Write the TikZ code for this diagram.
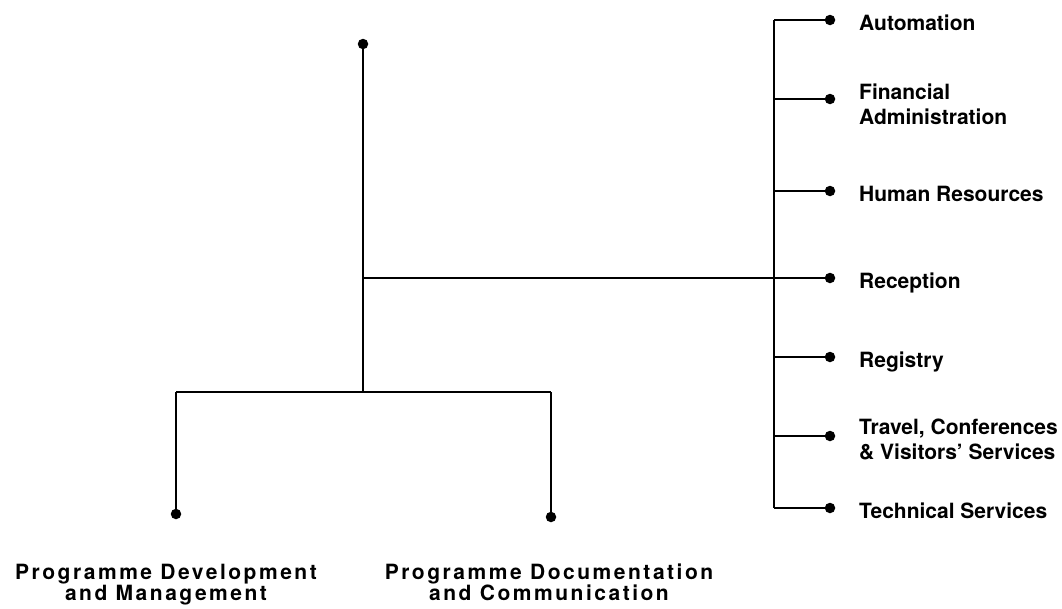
\documentclass[tikz,border=0pt]{standalone}
\usepackage{fontspec}
\setmainfont{TeX Gyre Heros}
\begin{document}
\begin{tikzpicture}[x=1pt,y=-1pt,
  conn/.style={line width=1.5pt, black},
  dotnode/.style={circle, fill=black, inner sep=0pt, minimum size=10.5pt},
  unitlabel/.style={anchor=base west, inner sep=0pt, align=left,
    font=\fontsize{21}{25.5}\selectfont\bfseries},
  divlabel/.style={anchor=base, inner sep=0pt, align=center,
    font=\fontsize{21}{21}\selectfont\bfseries\addfontfeature{LetterSpace=12}}]
\useasboundingbox (0,0) rectangle (1062,608);
% main stem
\node[dotnode] (top) at (363,44) {};
\coordinate (jr) at (363,278);
\coordinate (jb) at (363,392);
\coordinate (bl) at (176,392);
\coordinate (br) at (551,392);
\node[dotnode] (pdm) at (176,514) {};
\node[dotnode] (pdc) at (551,517) {};
\draw[conn] (top) -- (jb);
\draw[conn] (bl) -- (br);
\draw[conn] (bl) -- (pdm);
\draw[conn] (br) -- (pdc);
% right bus
\coordinate (bustop) at (774,20);
\coordinate (busbot) at (774,508);
\coordinate (bfin) at (774,99);
\coordinate (bhr) at (774,191);
\coordinate (breg) at (774,357);
\coordinate (btrv) at (774,436);
\node[dotnode] (aut) at (830,20) {};
\node[dotnode] (fin) at (830,99) {};
\node[dotnode] (hr) at (830,191) {};
\node[dotnode] (rec) at (830,278) {};
\node[dotnode] (reg) at (830,357) {};
\node[dotnode] (trv) at (830,436) {};
\node[dotnode] (tec) at (830,508) {};
\draw[conn] (bustop) -- (busbot);
\draw[conn] (bustop) -- (aut);
\draw[conn] (bfin) -- (fin);
\draw[conn] (bhr) -- (hr);
\draw[conn] (jr) -- (rec);
\draw[conn] (breg) -- (reg);
\draw[conn] (btrv) -- (trv);
\draw[conn] (busbot) -- (tec);
% right labels
\node[unitlabel] (lAut) at (859,30) {Automation};
\node[unitlabel] (lFin) at (859,124.5) {Financial\\Administration};
\node[unitlabel] (lHr) at (859,201) {Human Resources};
\node[unitlabel] (lRec) at (859,288) {Reception};
\node[unitlabel] (lReg) at (859,367) {Registry};
\node[unitlabel] (lTrv) at (859,459.5) {Travel, Conferences\\\& Visitors’ Services};
\node[unitlabel] (lTec) at (859,518) {Technical Services};
% bottom labels
\node[divlabel] (lPdm) at (166,600) {Programme Development\\and Management};
\node[divlabel] (lPdc) at (549,600) {Programme Documentation\\and Communication};
\end{tikzpicture}
\end{document}
